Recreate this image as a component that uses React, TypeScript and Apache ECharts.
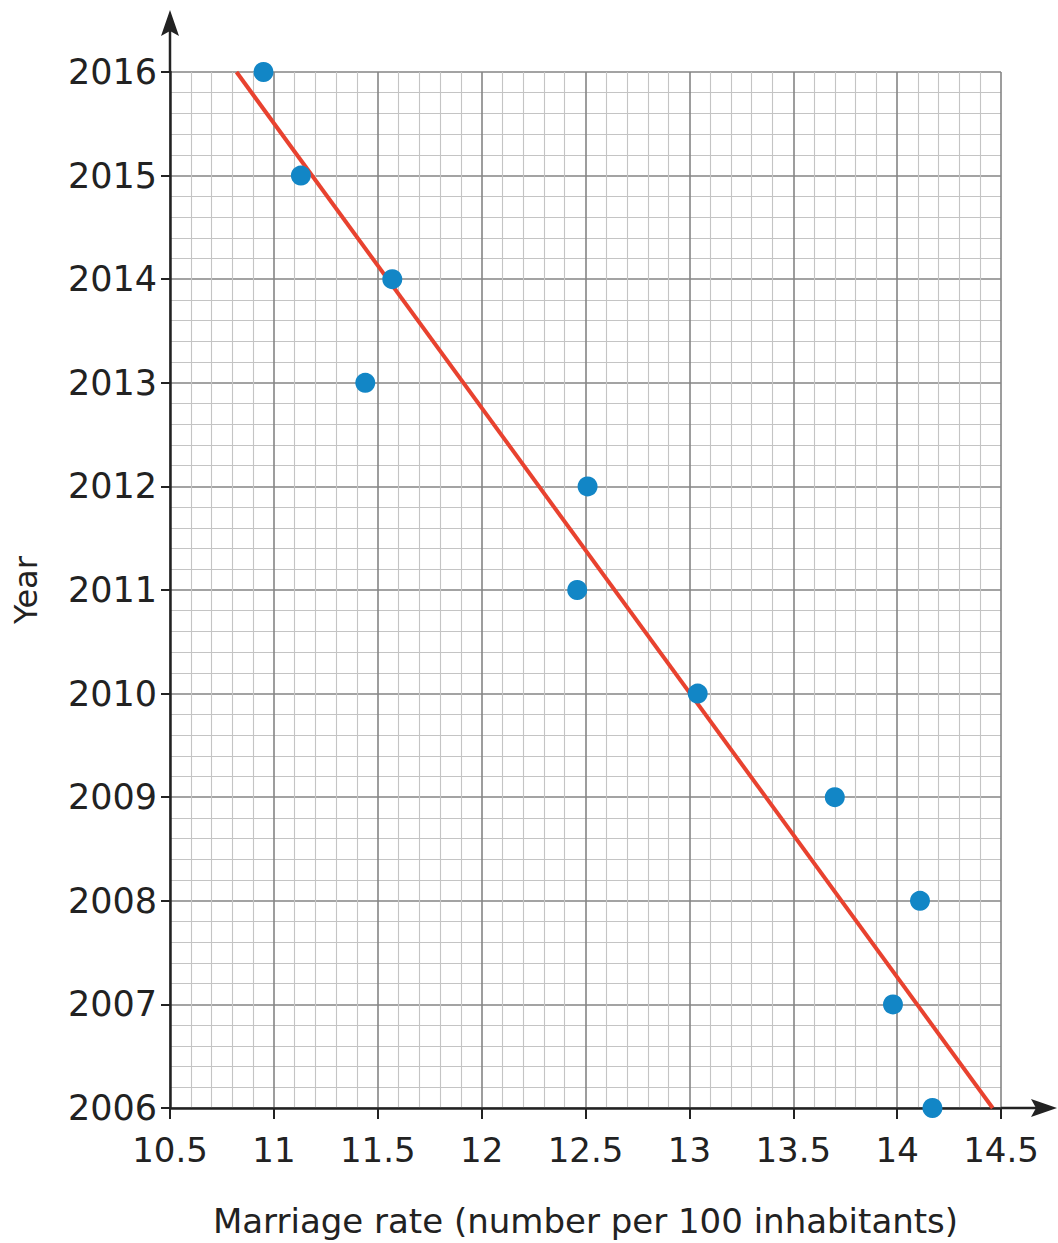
import React, { useEffect, useRef } from "react";
import * as echarts from "echarts";

const years = [2016, 2015, 2014, 2013, 2012, 2011, 2010, 2009, 2008, 2007, 2006];
const rates = [10.95, 11.13, 11.57, 11.44, 12.51, 12.46, 13.04, 13.7, 14.11, 13.98, 14.17];
const trendRates = [10.82, 14.46];
const trendYears = [2016, 2006];
const xName = "Marriage rate (number per 100 inhabitants)";
const yName = "Year";

export default function App() {
  const ref = useRef<HTMLDivElement>(null);
  useEffect(() => {
    const chart = echarts.init(ref.current as HTMLDivElement, null, { renderer: "svg" });
    const font = "DejaVu Sans";
    const ink = "#222222";
    chart.setOption({
      animation: false,
      backgroundColor: "#ffffff",
      grid: { left: 170, right: 57, top: 72, bottom: 133, containLabel: false },
      xAxis: {
        type: "value",
        min: 10.5,
        max: 14.5,
        interval: 0.5,
        name: xName,
        nameLocation: "middle",
        nameGap: 96,
        nameTextStyle: { fontFamily: font, fontSize: 34, color: ink },
        axisLine: { show: true, lineStyle: { color: ink, width: 2.5 } },
        axisTick: { show: true, inside: false, length: 11, lineStyle: { color: ink, width: 2 } },
        axisLabel: { fontFamily: font, fontSize: 34, color: ink, margin: 25, showMinLabel: true, showMaxLabel: true },
        splitLine: { show: true, lineStyle: { color: "#858585", width: 1.6 } },
        minorTick: { show: false, splitNumber: 5 },
        minorSplitLine: { show: true, lineStyle: { color: "#c4c4c4", width: 1.1 } },
      },
      yAxis: {
        type: "value",
        min: 2006,
        max: 2016,
        interval: 1,
        name: yName,
        nameLocation: "middle",
        nameGap: 128,
        nameRotate: 90,
        nameTextStyle: { fontFamily: font, fontSize: 32, color: ink },
        axisLine: { show: true, lineStyle: { color: ink, width: 2.5 } },
        axisTick: { show: true, inside: false, length: 9, lineStyle: { color: ink, width: 2 } },
        axisLabel: { fontFamily: font, fontSize: 35, color: ink, margin: 13, formatter: (v: number) => String(v) },
        splitLine: { show: true, lineStyle: { color: "#858585", width: 1.6 } },
        minorTick: { show: false, splitNumber: 5 },
        minorSplitLine: { show: true, lineStyle: { color: "#c4c4c4", width: 1.1 } },
      },
      series: [
        {
          type: "line",
          data: trendRates.map((r, i) => [r, trendYears[i]]),
          showSymbol: false,
          symbol: "none",
          lineStyle: { color: "#e8422f", width: 4 },
          z: 3,
        },
        {
          type: "scatter",
          data: rates.map((r, i) => [r, years[i]]),
          symbol: "circle",
          symbolSize: 20,
          itemStyle: { color: "#1286c6", opacity: 1 },
          z: 4,
        },
      ],
    });
    const p0 = chart.convertToPixel({ gridIndex: 0 }, [10.5, 2006]) as number[];
    const p1 = chart.convertToPixel({ gridIndex: 0 }, [14.5, 2016]) as number[];
    const ax = p0[0];
    const ay = p0[1];
    const topY = p1[1];
    const rightX = p1[0];
    chart.setOption({
      graphic: [
        { type: "line", shape: { x1: ax, y1: topY, x2: ax, y2: 30 }, style: { stroke: ink, lineWidth: 2.5 }, z: 10 },
        {
          type: "polygon",
          shape: { points: [[ax - 9, 36], [ax, 10], [ax + 9, 36], [ax, 31]] },
          style: { fill: ink },
          z: 10,
        },
        { type: "line", shape: { x1: rightX, y1: ay, x2: 1038, y2: ay }, style: { stroke: ink, lineWidth: 2.5 }, z: 10 },
        {
          type: "polygon",
          shape: { points: [[1031, ay - 9], [1057, ay], [1031, ay + 9], [1036, ay]] },
          style: { fill: ink },
          z: 10,
        },
      ],
    });
    return () => chart.dispose();
  }, []);
  return <div ref={ref} style={{ position: "absolute", left: 0, top: 0, width: 1058, height: 1243 }} />;
}
